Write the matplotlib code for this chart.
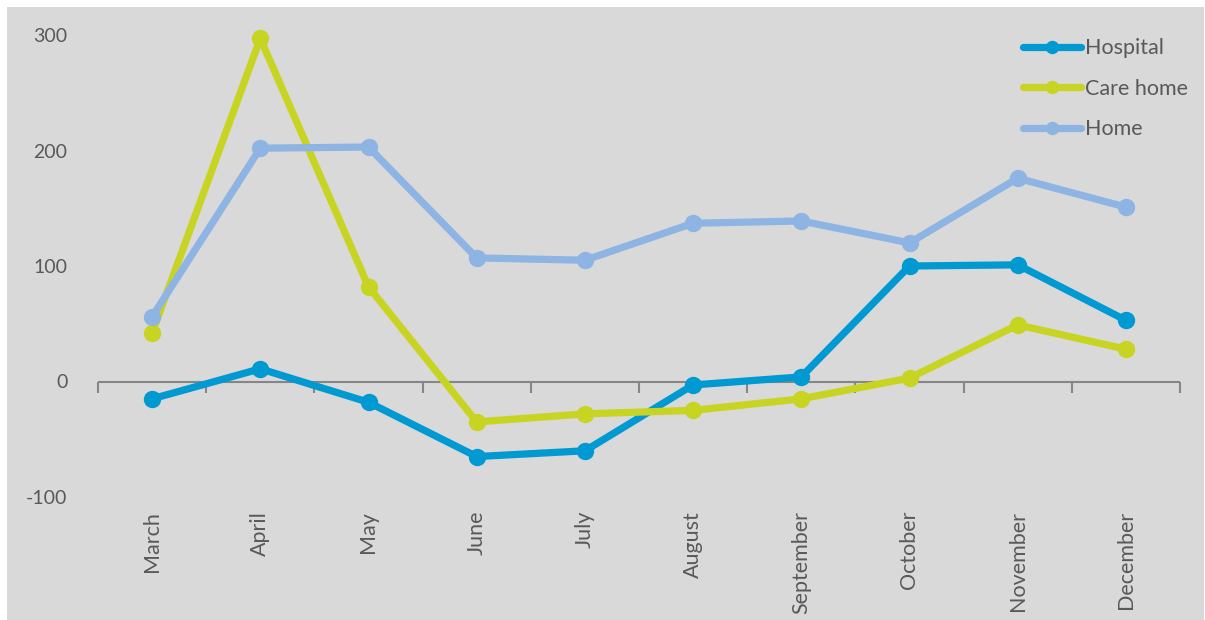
import numpy as np
import matplotlib
matplotlib.use("Agg")
import matplotlib.pyplot as plt
from matplotlib.patches import Rectangle

# Data
months = ["March", "April", "May", "June", "July", "August",
          "September", "October", "November", "December"]
hospital = [-15, 11, -18, -65, -60, -3, 4, 100, 101, 53]
care_home = [42, 297, 82, -35, -28, -25, -15, 3, 49, 28]
home = [56, 202, 203, 107, 105, 137, 139, 120, 176, 151]
y_ticks = [-100, 0, 100, 200, 300]

series = [
    ("Hospital", hospital, "#0099d1"),
    ("Care home", care_home, "#c8d422"),
    ("Home", home, "#8db4e3"),
]

plt.rcParams['font.family'] = ['Lato', 'DejaVu Sans']
text_col = "#595959"
bg = "#d9d9d9"

fig = plt.figure(figsize=(12.05, 6.2), dpi=100)
# grey chart area with thin white margin top/left
fig.patches.append(Rectangle((7 / 1205, 0), 1197 / 1205, 613 / 620,
                             transform=fig.transFigure, facecolor=bg,
                             edgecolor="none", zorder=-10))

ax = fig.add_axes([98 / 1205, (620 - 497) / 620, 1082 / 1205, 462 / 620])
ax.set_facecolor("none")

x = np.arange(len(months))
for name, vals, col in series:
    ax.plot(x, vals, color=col, lw=5.2, marker="o", ms=11.5,
            solid_capstyle="round", solid_joinstyle="round",
            label=name, clip_on=False, zorder=3)

# zero axis line with category boundary ticks
ax.axhline(0, color="#868686", lw=1.5, zorder=1)
bounds = np.arange(len(months) + 1) - 0.5
ax.plot(bounds, np.zeros_like(bounds), ls="none", marker=3, ms=8,
        mew=1.5, color="#868686", zorder=1, clip_on=False)

ax.set_xlim(-0.5, len(months) - 0.5)
ax.set_ylim(-100, 300)
ax.set_yticks(y_ticks)
ax.set_yticklabels([str(v) for v in y_ticks])
ax.tick_params(axis="y", length=0, pad=22, labelsize=14, labelcolor=text_col)
ax.set_xticks(x)
ax.set_xticklabels(months, rotation=90, va="top", ha="center")
ax.tick_params(axis="x", length=0, pad=10, labelsize=15.5, labelcolor=text_col)
for s in ax.spines.values():
    s.set_visible(False)

leg = ax.legend(loc="upper right", bbox_to_anchor=(1.025, 1.035), frameon=False,
                fontsize=15.5, handlelength=2.7, handletextpad=0.15,
                labelspacing=0.95, markerscale=0.75, labelcolor=text_col)

fig.savefig("out.png", dpi=100)
